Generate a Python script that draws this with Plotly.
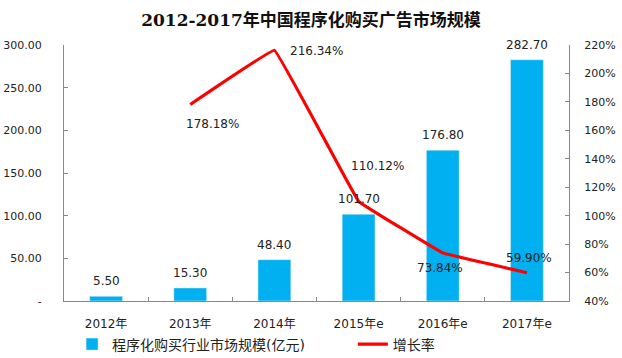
import plotly.graph_objects as go

categories = ["2012年", "2013年", "2014年", "2015年e", "2016年e", "2017年e"]
market_size = [5.50, 15.30, 48.40, 101.70, 176.80, 282.70]
growth_cats = ["2013年", "2014年", "2015年e", "2016年e", "2017年e"]
growth_rate = [178.18, 216.34, 110.12, 73.84, 59.90]
growth_labels = ["178.18%", "216.34%", "110.12%", "73.84%", "59.90%"]
label_shift = [(22, -20), (42, -1), (19, 35), (-3, -15), (2, 15)]

left_ticks = [0, 50, 100, 150, 200, 250, 300]
left_ticktext = ["-", "50.00", "100.00", "150.00", "200.00", "250.00", "300.00"]
right_ticks = [40, 60, 80, 100, 120, 140, 160, 180, 200, 220]
right_ticktext = [f"{v}%" for v in right_ticks]

font_main = "DejaVu Sans, Noto Sans CJK SC"

fig = go.Figure()
fig.add_trace(go.Bar(
    x=categories, y=market_size, name="程序化购买行业市场规模(亿元)",
    marker=dict(color="#00B0F0"), width=0.39, legend="legend",
))
fig.add_trace(go.Scatter(
    x=growth_cats, y=growth_rate, yaxis="y2", name="增长率", legend="legend2",
    mode="lines", line=dict(color="#FF0000", width=3.2, shape="spline", smoothing=0.12),
))

annotations = []
for c, v in zip(categories, market_size):
    annotations.append(dict(x=c, y=v, xref="x", yref="y", text=f"{v:.2f}", showarrow=False,
                            yanchor="bottom", yshift=6,
                            font=dict(size=12, color="#222", family=font_main)))
for c, v, t, (dx, dy) in zip(growth_cats, growth_rate, growth_labels, label_shift):
    annotations.append(dict(x=c, y=v, xref="x", yref="y2", text=t, showarrow=False,
                            xshift=dx, yshift=dy,
                            font=dict(size=12, color="#222", family=font_main)))

legend_common = dict(orientation="h", xanchor="left", y=-0.17, yanchor="middle",
                     font=dict(size=14, color="#222", family=font_main), itemwidth=30,
                     bgcolor="rgba(0,0,0,0)")

fig.update_layout(
    width=622, height=358,
    margin=dict(l=64, r=53, t=45, b=57, autoexpand=False),
    paper_bgcolor="white", plot_bgcolor="white",
    title=dict(text="<b>2012-2017年中国程序化购买广告市场规模</b>", x=0.5, xanchor="center",
               y=0.945, yanchor="middle",
               font=dict(size=17, color="#111", family="DejaVu Serif, Noto Sans CJK SC")),
    xaxis=dict(type="category", showline=True, linecolor="#888", linewidth=1,
               ticks="inside", tickson="boundaries", ticklen=4, tickcolor="#888",
               ticklabelstandoff=12, automargin=False,
               tickfont=dict(size=12, color="#222", family=font_main), showgrid=False),
    yaxis=dict(range=[0, 300], tickvals=left_ticks, ticktext=left_ticktext,
               showline=True, linecolor="#888", ticks="inside", ticklen=4, tickcolor="#888",
               ticklabelstandoff=19, automargin=False,
               tickfont=dict(size=11, color="#222", family=font_main), showgrid=False,
               zeroline=False),
    yaxis2=dict(range=[40, 220], tickvals=right_ticks, ticktext=right_ticktext,
                overlaying="y", side="right",
                showline=True, linecolor="#888", ticks="inside", ticklen=4, tickcolor="#888",
                ticklabelstandoff=12, automargin=False,
                tickfont=dict(size=11, color="#222", family=font_main), showgrid=False,
                zeroline=False),
    legend=dict(x=0.016, **legend_common),
    legend2=dict(x=0.572, **legend_common),
    annotations=annotations,
    showlegend=True,
)

fig.write_html("out.html", config={"displayModeBar": False},
               post_script="document.body.style.margin='0';document.body.style.overflow='hidden';")
